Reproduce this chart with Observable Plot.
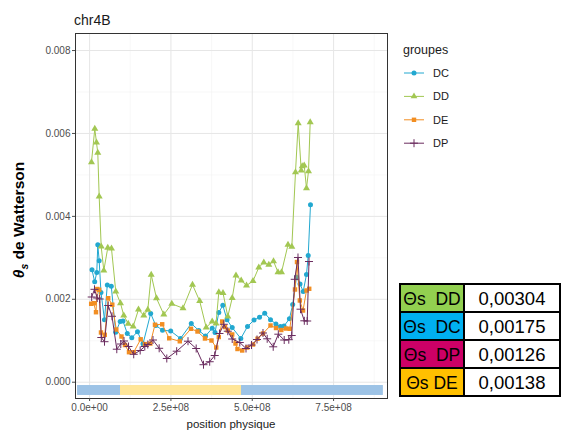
<!DOCTYPE html>
<html><head><meta charset="utf-8">
<script src="https://cdn.jsdelivr.net/npm/d3@7"></script>
<script src="https://cdn.jsdelivr.net/npm/@observablehq/plot@0.6"></script>
<style>
html,body{margin:0;padding:0;background:#fff;}
#chart{width:566px;height:434px;}
</style></head><body><div id="chart"></div>
<script>
const groups = ["DC", "DD", "DE", "DP"];

const dcPos = [7.4e6,15.7e6,22.1e6,25.2e6,29.5e6,35.0e6,45.8e6,54.4e6,66.7e6,80.2e6,94.1e6,102.7e6,115.9e6,129.7e6,147.2e6,164.2e6,187.8e6,203.5e6,224.1e6,249.3e6,279.4e6,312.6e6,335.7e6,356.3e6,376.9e6,385.5e6,397.2e6,409.5e6,422.4e6,438.4e6,464.8e6,485.4e6,505.4e6,522.3e6,538.3e6,556.1e6,572.7e6,586.8e6,597.6e6,614.2e6,624.3e6,636.0e6,646.8e6,656.6e6,666.7e6,672.0e6,679.0e6];
const dcVal = [0.002711,0.002422,0.002646,0.003317,0.002928,0.002164,0.001505,0.002345,0.002313,0.001206,0.001464,0.001476,0.001175,0.001073,0.001216,0.000926,0.001657,0.001368,0.001254,0.001235,0.001054,0.001416,0.001247,0.001114,0.0013,0.001199,0.001681,0.001855,0.001505,0.001319,0.001054,0.001343,0.0015,0.001568,0.001664,0.001508,0.001404,0.001343,0.001356,0.001529,0.001874,0.002537,0.002369,0.002188,0.002598,0.003056,0.004279];

const ddPos = [5.8e6,16.0e6,21.2e6,25.2e6,29.5e6,35.7e6,43.7e6,55.9e6,67.3e6,80.5e6,95.0e6,105.1e6,118.7e6,134.0e6,150.3e6,166.6e6,178.9e6,189.4e6,205.6e6,228.1e6,252.7e6,287.1e6,316.3e6,338.4e6,358.4e6,376.9e6,388.6e6,397.2e6,410.1e6,424.8e6,438.4e6,450.0e6,466.0e6,482.3e6,502.3e6,520.1e6,535.5e6,550.9e6,565.3e6,579.1e6,589.9e6,609.9e6,621.6e6,632.9e6,641.2e6,650.5e6,653.5e6,659.7e6,666.7e6,672.9e6,678.1e6];
const ddVal = [0.005306,0.006112,0.005782,0.005533,0.004479,0.003273,0.002694,0.003242,0.003225,0.002188,0.001905,0.001609,0.001409,0.001343,0.001754,0.001609,0.001746,0.002591,0.002026,0.001633,0.001891,0.001785,0.002352,0.001959,0.001319,0.001464,0.001416,0.002168,0.002152,0.001585,0.002031,0.002574,0.002453,0.002332,0.002441,0.002767,0.002887,0.002832,0.002919,0.002653,0.002653,0.003314,0.003266,0.005065,0.006247,0.005106,0.00521,0.005227,0.004679,0.005089,0.006271];

const dePos = [4.9e6,12.9e6,19.7e6,23.7e6,29.5e6,35.0e6,46.7e6,57.2e6,69.8e6,82.1e6,98.1e6,108.8e6,121.1e6,135.6e6,157.1e6,170.0e6,186.6e6,201.0e6,223.2e6,244.7e6,277.3e6,311.7e6,331.7e6,354.7e6,374.7e6,389.2e6,397.2e6,407.6e6,416.2e6,424.8e6,438.4e6,448.5e6,454.6e6,469.1e6,484.5e6,502.3e6,516.1e6,533.0e6,556.1e6,573.0e6,589.3e6,603.7e6,615.4e6,631.4e6,637.5e6,646.2e6,656.0e6,666.7e6,675.1e6];
const deVal = [0.001891,0.001905,0.001688,0.002248,0.002229,0.001199,0.001143,0.002026,0.001869,0.001271,0.001102,0.000897,0.000724,0.000724,0.001035,0.000919,0.000933,0.001387,0.001397,0.001059,0.000987,0.001288,0.001223,0.001054,0.001006,0.000837,0.00109,0.001464,0.001331,0.001247,0.001151,0.000933,0.000801,0.000765,0.000837,0.000909,0.001047,0.001175,0.001368,0.001307,0.001259,0.001295,0.001288,0.002236,0.002899,0.001971,0.001729,0.002212,0.002253];

const dpPos = [6.5e6,15.1e6,23.4e6,31.0e6,36.0e6,45.8e6,57.2e6,68.9e6,83.6e6,95.9e6,105.7e6,119.6e6,135.6e6,155.5e6,169.7e6,178.9e6,194.9e6,213.9e6,237.3e6,267.7e6,302.5e6,327.7e6,350.1e6,369.2e6,384.6e6,399.3e6,412.5e6,424.8e6,438.4e6,461.7e6,480.8e6,497.7e6,514.6e6,533.0e6,545.9e6,564.4e6,580.1e6,598.2e6,612.3e6,621.3e6,630.5e6,640.6e6,648.3e6,660.0e6,668.9e6,674.4e6];
const dpVal = [0.002055,0.002241,0.002031,0.002007,0.001078,0.000977,0.00185,0.00159,0.000796,0.000921,0.000994,0.000861,0.000673,0.000765,0.000861,0.000909,0.001018,0.000818,0.000572,0.000748,0.000989,0.000813,0.000422,0.000494,0.000644,0.001175,0.001397,0.00123,0.001042,0.000958,0.000813,0.000897,0.00103,0.001187,0.001047,0.000854,0.001158,0.001018,0.001025,0.001126,0.002482,0.003008,0.001761,0.001481,0.001476,0.002911];

// chromosome band (centromere region)
const bandStart = [-37e6, 95e6];
const bandEnd = [903e6, 467e6];
const bandTop = [-0.00008, -0.00008];
const bandBottom = [-0.00032, -0.00032];

const xTicks = [0, 2.5e8, 5e8, 7.5e8];
const xMinor = [1.25e8, 3.75e8, 6.25e8, 8.75e8];
const yTicks = [0, 0.002, 0.004, 0.006, 0.008];
const yMinor = [0.001, 0.003, 0.005, 0.007];

const tableLabels = ["Θs  DD", "Θs  DC", "Θs  DP", "Θs DE"];
const tableValues = ["0,00304", "0,00175", "0,00126", "0,00138"];

// styles
const colors = {DC: "#22a8d0", DD: "#a2c752", DE: "#f28e22", DP: "#6a2c5f"};
const symbols = {DC: "circle", DD: "triangle", DE: "square", DP: "plus"};
const bandColors = ["#9dc3e6", "#ffe699"];
const tableColors = ["#92d050", "#00b0f0", "#cc0066", "#ffc000"];

const series = {DC: [dcPos, dcVal], DD: [ddPos, ddVal], DE: [dePos, deVal], DP: [dpPos, dpVal]};
const rows = groups.flatMap(g => series[g][0].map((p, i) => ({groupe: g, pos: p, theta: series[g][1][i]})));
const band = bandStart.map((s, i) => ({x1: s, x2: bandEnd[i], y1: bandBottom[i], y2: bandTop[i], fill: bandColors[i]}));

const sci = v => {
  const [m, e] = v.toExponential(1).split("e");
  const sign = e[0] === "-" ? "-" : "+";
  const d = e.replace(/[+-]/, "").padStart(2, "0");
  return `${m}e${sign}${d}`;
};

const plusR = 2.7;
const marks = [
  Plot.gridX(xMinor, {stroke: "#f3f3f3", strokeOpacity: 1, strokeWidth: 0.6}),
  Plot.gridY(yMinor, {stroke: "#f3f3f3", strokeOpacity: 1, strokeWidth: 0.6}),
  Plot.gridX(xTicks, {stroke: "#e6e6e6", strokeOpacity: 1, strokeWidth: 1}),
  Plot.gridY(yTicks, {stroke: "#e6e6e6", strokeOpacity: 1, strokeWidth: 1}),
  Plot.rect(band, {x1: "x1", x2: "x2", y1: "y1", y2: "y2", fill: d => d.fill}),
];
for (const g of groups) {
  const data = rows.filter(r => r.groupe === g);
  marks.push(Plot.line(data, {x: "pos", y: "theta", stroke: colors[g], strokeWidth: 1}));
  if (g === "DP") {
    marks.push(Plot.dot(data, {x: "pos", y: "theta", symbol: "plus", stroke: colors[g], r: plusR, strokeWidth: 1}));
  } else {
    marks.push(Plot.dot(data, {x: "pos", y: "theta", symbol: symbols[g], fill: colors[g], r: g === "DD" ? 2.6 : 2.5}));
  }
}
marks.push(
  Plot.frame({stroke: "#333", strokeWidth: 1}),
  Plot.axisX(xTicks, {tickFormat: sci, tickSize: 3, tickPadding: 2, fontSize: 10, color: "#4d4d4d", label: null}),
  Plot.axisY(yTicks, {tickFormat: d3.format(".3f"), tickSize: 3, tickPadding: 2, fontSize: 10, color: "#4d4d4d", label: null})
);

const chart = Plot.plot({
  width: 566, height: 434,
  marginLeft: 75, marginRight: 179, marginTop: 33, marginBottom: 36,
  style: {fontFamily: "'Liberation Sans', Arial, sans-serif", background: "#fff", overflow: "visible"},
  x: {domain: [-43.3e6, 915.7e6], label: null},
  y: {domain: [-0.000393, 0.008411], label: null},
  marks
});
document.getElementById("chart").appendChild(chart);

const svg = d3.select(chart);
const font = "'Liberation Sans', Arial, sans-serif";

// title
svg.append("text").attr("x", 74).attr("y", 25).attr("text-anchor", "start").attr("font-size", 14).attr("font-family", font).attr("fill", "#1a1a1a").text("chr4B");

// x label
svg.append("text").attr("x", 231).attr("y", 428).attr("text-anchor", "middle").attr("font-size", 11.5).attr("font-family", font).attr("fill", "#1a1a1a").text("position physique");

// y label
const yl = svg.append("text").attr("transform", "translate(24,220) rotate(-90)").attr("text-anchor", "middle")
  .attr("font-size", 15.5).attr("font-weight", "bold").attr("font-family", font).attr("fill", "#000");
yl.append("tspan").attr("font-style", "italic").text("θ");
yl.append("tspan").attr("font-size", 10.5).attr("font-style", "italic").attr("dy", 3.5).text("s");
yl.append("tspan").attr("dy", -3.5).text(" de Watterson");

// legend
const lg = svg.append("g").attr("font-family", font).attr("text-anchor", "start");
lg.append("text").attr("x", 403).attr("y", 54).attr("font-size", 12.5).attr("fill", "#1a1a1a").text("groupes");
const symMap = {circle: d3.symbolCircle, triangle: d3.symbolTriangle, square: d3.symbolSquare, plus: d3.symbolPlus};
groups.forEach((g, i) => {
  const y = 73 + i * 23.4;
  lg.append("line").attr("x1", 404).attr("x2", 424).attr("y1", y).attr("y2", y).attr("stroke", colors[g]).attr("stroke-width", 1);
  const r = g === "DP" ? plusR : 2.5;
  const p = lg.append("path").attr("transform", `translate(414,${y})`).attr("d", d3.symbol(symMap[symbols[g]], r * r * Math.PI)());
  if (g === "DP") p.attr("fill", "none").attr("stroke", colors[g]);
  else p.attr("fill", colors[g]);
  lg.append("text").attr("x", 433).attr("y", y + 4).attr("font-size", 11).attr("fill", "#1a1a1a").text(g);
});

// table
const tb = svg.append("g").attr("font-family", font);
const tx0 = 400, tx1 = 464, tx2 = 560, ty0 = 284, rh = 28;
tableLabels.forEach((lab, i) => {
  const y = ty0 + i * rh;
  tb.append("rect").attr("x", tx0).attr("y", y).attr("width", tx1 - tx0).attr("height", rh).attr("fill", tableColors[i]);
  tb.append("rect").attr("x", tx1).attr("y", y).attr("width", tx2 - tx1).attr("height", rh).attr("fill", "#fff");
  tb.append("text").attr("x", (tx0 + tx1) / 2).attr("y", y + rh / 2 + 6.5).attr("text-anchor", "middle").attr("font-size", 17.5)
    .style("white-space", "pre").attr("fill", "#000").text(lab);
  tb.append("text").attr("x", (tx1 + tx2) / 2).attr("y", y + rh / 2 + 6.5).attr("text-anchor", "middle").attr("font-size", 18.5)
    .attr("fill", "#000").text(tableValues[i]);
});
for (let i = 0; i <= tableLabels.length; i++) {
  tb.append("line").attr("x1", tx0).attr("x2", tx2).attr("y1", ty0 + i * rh).attr("y2", ty0 + i * rh).attr("stroke", "#000").attr("stroke-width", 2);
}
for (const x of [tx0, tx1, tx2]) {
  tb.append("line").attr("x1", x).attr("x2", x).attr("y1", ty0 - 1).attr("y2", ty0 + tableLabels.length * rh + 1).attr("stroke", "#000").attr("stroke-width", 2);
}
</script></body></html>
